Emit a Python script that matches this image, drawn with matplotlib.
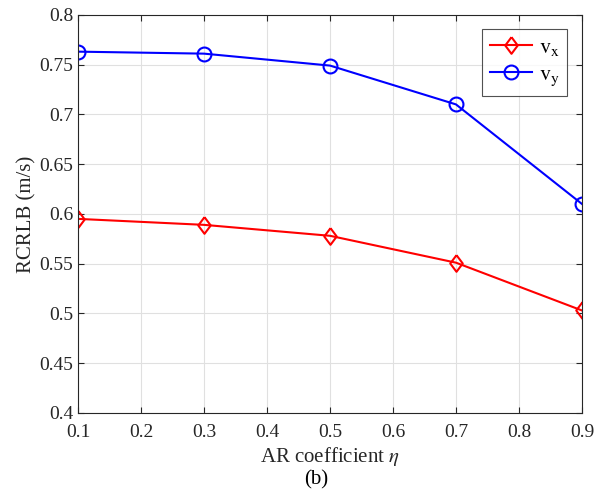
import numpy as np
import matplotlib
matplotlib.use('Agg')
import matplotlib.pyplot as plt

# %% data
eta = [0.1, 0.3, 0.5, 0.7, 0.9]
vx = [0.595, 0.589, 0.578, 0.551, 0.503]
vy = [0.763, 0.761, 0.749, 0.710, 0.610]

plt.rcParams['font.family'] = ['Liberation Serif', 'DejaVu Serif']
plt.rcParams['mathtext.fontset'] = 'stix'
txt_col = '#262626'

# matlab-like diamond (taller than wide)
diam = [(0, 1), (0.75, 0), (0, -1), (-0.75, 0), (0, 1)]

fig = plt.figure(figsize=(6.1, 4.94), dpi=100)
ax = fig.add_axes([0.128, 0.164, 0.826, 0.806])

ax.plot(eta, vx, color='red', lw=1.5, marker=diam, ms=12, mfc='none', mew=1.5,
        label=r'$\mathrm{v}_\mathrm{x}$')
ax.plot(eta, vy, color='blue', lw=1.5, marker='o', ms=10, mfc='none', mew=1.5,
        label=r'$\mathrm{v}_\mathrm{y}$')

ax.set_xlim(0.1, 0.9)
ax.set_ylim(0.4, 0.8)
ax.set_xticks(np.arange(0.1, 0.91, 0.1))
ax.set_xticklabels(['0.1', '0.2', '0.3', '0.4', '0.5', '0.6', '0.7', '0.8', '0.9'])
ax.set_yticks(np.arange(0.4, 0.81, 0.05))
ax.set_yticklabels(['0.4', '0.45', '0.5', '0.55', '0.6', '0.65', '0.7', '0.75', '0.8'])
ax.grid(True, color='#e0e0e0', lw=0.8)
ax.set_axisbelow(True)
ax.tick_params(direction='in', labelsize=14, colors=txt_col, length=4, top=True, right=True)
ax.tick_params(axis='x', pad=8)
for s in ax.spines.values():
    s.set_color(txt_col)
    s.set_linewidth(0.8)

ax.set_xlabel(r'AR coefficient $\eta$', fontsize=15, color=txt_col, labelpad=2.5)
ax.set_ylabel('RCRLB (m/s)', fontsize=15, color=txt_col, labelpad=2)
fig.text(0.518, 0.019, '(b)', fontsize=15, color='black', ha='center', va='baseline')

leg = ax.legend(loc='upper right', fontsize=16, fancybox=False, edgecolor=txt_col,
                handlelength=1.9, handletextpad=0.3, borderpad=0.35,
                labelspacing=0.3, borderaxespad=0.65)
leg.get_frame().set_linewidth(0.8)

fig.savefig('out.png', dpi=100)
